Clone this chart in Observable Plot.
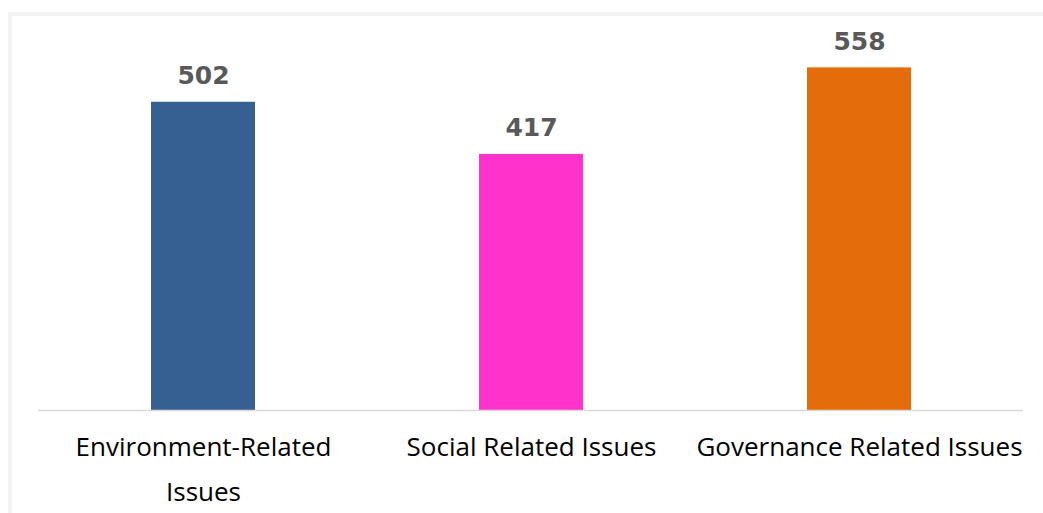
<!DOCTYPE html>
<html>
<head>
<meta charset="utf-8">
<script src="https://cdn.jsdelivr.net/npm/d3@7"></script>
<script src="https://cdn.jsdelivr.net/npm/@observablehq/plot@0.6"></script>
<style>
  html, body { margin: 0; padding: 0; background: #ffffff; overflow: hidden; width: 1043px; height: 513px; }
  #frame { position: absolute; left: 8px; top: 12px; width: 1100px; height: 600px; border: 4px solid #f2f2f2; box-sizing: border-box; }
  #chart { position: absolute; left: 0; top: 0; }
</style>
</head>
<body>
<div id="frame"></div>
<div id="chart"></div>
<script>
const categories = ["Environment-Related Issues", "Social Related Issues", "Governance Related Issues"];
const tickLabels = ["Environment-Related\nIssues", "Social Related Issues", "Governance Related Issues"];
const values = [502, 417, 558];
const colors = ["#376092", "#FF33CC", "#E46C0A"];

const data = categories.map((c, i) => ({category: c, value: values[i], color: colors[i]}));
const labelOf = new Map(categories.map((c, i) => [c, tickLabels[i]]));

const chart = Plot.plot({
  width: 1043,
  height: 513,
  marginLeft: 38,
  marginRight: 20,
  marginTop: 41.6,
  marginBottom: 103,
  style: {background: "transparent", overflow: "visible"},
  x: {domain: categories, paddingInner: 0.684, paddingOuter: 0.342, axis: null},
  y: {domain: [0, 600], axis: null},
  marks: [
    Plot.barY(data, {x: "category", y: "value", fill: "color"}),
    Plot.ruleY([0], {stroke: "#d9d9d9", strokeWidth: 1.5}),
    Plot.text(data, {x: "category", y: "value", text: d => String(d.value), lineAnchor: "bottom", dy: -18,
      fill: "#595959", fontSize: 25, fontWeight: "bold", fontFamily: "DejaVu Sans"}),
    Plot.axisX({tickSize: 0, tickPadding: 14, tickFormat: d => labelOf.get(d), fontSize: 26,
      fontFamily: "Open Sans", lineHeight: 1.73, fill: "#000000", label: null})
  ]
});
document.getElementById("chart").appendChild(chart);
</script>
</body>
</html>
